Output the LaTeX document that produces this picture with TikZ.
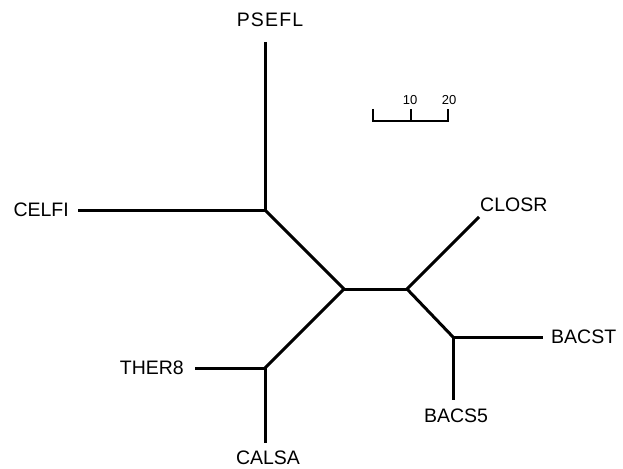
\documentclass[tikz,border=0pt]{standalone}
\usepackage{fontspec}
\setmainfont{Liberation Sans}
\begin{document}
\begin{tikzpicture}[x=1pt,y=-1pt,
  branch/.style={line width=3pt},
  scalebar/.style={line width=2pt},
  leaf/.style={font=\fontsize{19.5}{22}\selectfont, inner sep=0pt},
  scalelbl/.style={font=\fontsize{13}{15}\selectfont, inner sep=0pt}]
\useasboundingbox (0,0) rectangle (623,468);
% internal nodes
\coordinate (A) at (265,210);
\coordinate (B) at (344,289);
\coordinate (C) at (407,289);
\coordinate (D) at (453,337);
\coordinate (E) at (265,368);
% leaf ends
\coordinate (pse) at (265,42);
\coordinate (cel) at (78,210);
\coordinate (clo) at (479,217);
\coordinate (bst) at (543,337);
\coordinate (bs5) at (453,400);
\coordinate (th8) at (195,368);
\coordinate (cal) at (265,443);
% labels
\node[leaf, font=\fontsize{19.5}{22}\selectfont\addfontfeature{LetterSpace=6}] (lpse) at (270,20) {PSEFL};
\node[leaf, anchor=east] (lcel) at (69,210) {CELFI};
\node[leaf, anchor=west] (lclo) at (480,205) {CLOSR};
\node[leaf, anchor=west] (lbst) at (551,337) {BACST};
\node[leaf] (lbs5) at (456,416) {BACS5};
\node[leaf, anchor=east] (lth8) at (184,368) {THER8};
\node[leaf] (lcal) at (268,458) {CALSA};
% branches
\draw[branch] (pse) -- (A);
\draw[branch] (cel) -- (A);
\draw[branch] (A) -- (B);
\draw[branch] (B) -- (C);
\draw[branch] (C) -- (clo);
\draw[branch] (C) -- (D);
\draw[branch] (D) -- (bst);
\draw[branch] (D) -- (bs5);
\draw[branch] (B) -- (E);
\draw[branch] (E) -- (th8);
\draw[branch] (E) -- (cal);
% scale bar
\coordinate (s0) at (373,121);
\coordinate (s1) at (411,121);
\coordinate (s2) at (448,121);
\coordinate (t0) at (373,109);
\coordinate (t1) at (411,109);
\coordinate (t2) at (448,109);
\draw[scalebar] (t0) -- (s0) -- (s2) -- (t2);
\draw[scalebar] (s1) -- (t1);
\node[scalelbl] (l10) at (410,100) {10};
\node[scalelbl] (l20) at (449,100) {20};
\end{tikzpicture}
\end{document}
